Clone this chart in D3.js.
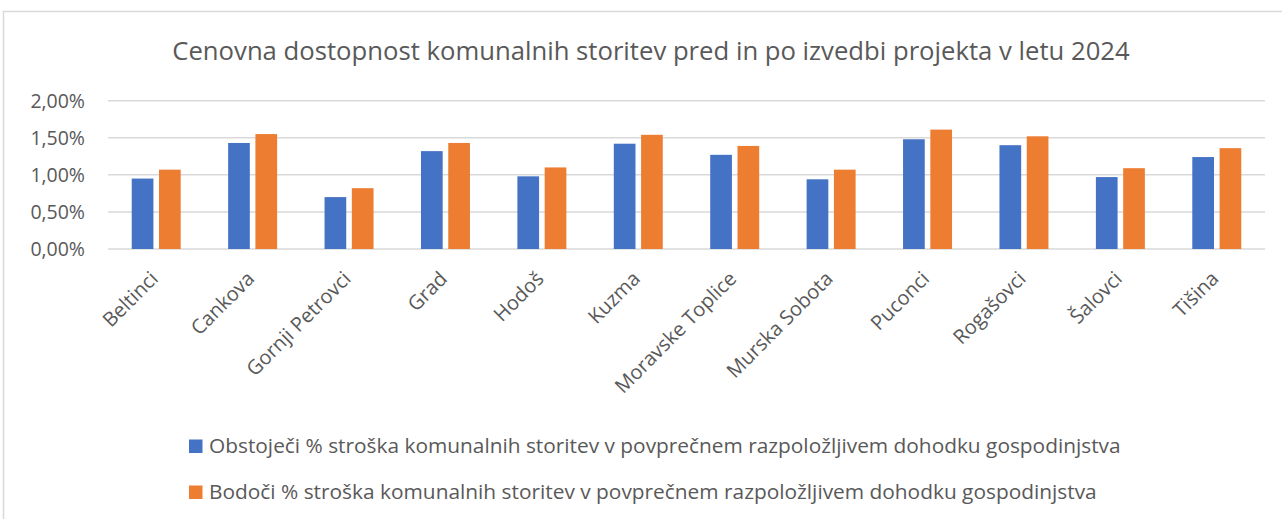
<!DOCTYPE html>
<html>
<head>
<meta charset="utf-8">
<script src="https://cdn.jsdelivr.net/npm/d3@7"></script>
<style>
  body { margin: 0; background: #fff; }
  text { font-family: "Open Sans", "Liberation Sans", sans-serif; fill: #595959; }
</style>
</head>
<body>
<svg id="chart" width="1282" height="519"></svg>
<script>
// občine (categories)
var categories = ["Beltinci", "Cankova", "Gornji Petrovci", "Grad", "Hodoš", "Kuzma",
  "Moravske Toplice", "Murska Sobota", "Puconci", "Rogašovci", "Šalovci", "Tišina"];

// values in %
var obstojeci = [0.95, 1.43, 0.70, 1.32, 0.98, 1.42, 1.27, 0.94, 1.48, 1.40, 0.97, 1.24];
var bodoci    = [1.07, 1.55, 0.82, 1.43, 1.10, 1.54, 1.39, 1.07, 1.61, 1.52, 1.09, 1.36];

var yTicks = [0, 0.5, 1.0, 1.5, 2.0];

var seriesNames = [
  "Obstoječi % stroška komunalnih storitev v povprečnem razpoložljivem dohodku gospodinjstva",
  "Bodoči % stroška komunalnih storitev v povprečnem razpoložljivem dohodku gospodinjstva"
];
var seriesColors = ["#4472C4", "#ED7D31"];

var svg = d3.select("#chart");

// chart area border
svg.append("rect")
  .attr("x", 3.5).attr("y", 11.5)
  .attr("width", 1290).attr("height", 520)
  .attr("fill", "none").attr("stroke", "#D9D9D9").attr("stroke-width", 1.5);

var plot = { left: 108, right: 1265, top: 100.7, bottom: 249 };

var x = d3.scaleBand()
  .domain(categories)
  .range([plot.left, plot.right]);

var y = d3.scaleLinear()
  .domain([0, 2])
  .range([plot.bottom, plot.top]);

// fit text to a target width by scaling font size
function fitWidth(sel, target) {
  var w = sel.node().getComputedTextLength();
  var fs = parseFloat(sel.attr("font-size"));
  sel.attr("font-size", fs * target / w);
}

// gridlines
svg.append("g").selectAll("line")
  .data(yTicks)
  .enter().append("line")
  .attr("x1", plot.left).attr("x2", plot.right)
  .attr("y1", function (d) { return y(d); })
  .attr("y2", function (d) { return y(d); })
  .attr("stroke", "#D9D9D9").attr("stroke-width", 1.5);

// y labels
svg.append("g").selectAll("text")
  .data(yTicks)
  .enter().append("text")
  .attr("x", 85)
  .attr("y", function (d) { return y(d) + 7; })
  .attr("text-anchor", "end")
  .attr("font-size", 19.5)
  .text(function (d) { return d.toFixed(2).replace(".", ",") + "%"; });

// bars
var bw = x.bandwidth();
var barW = bw * 0.225, innerGap = bw * 0.058;
var groupOff = (bw - 2 * barW - innerGap) / 2;

[obstojeci, bodoci].forEach(function (vals, s) {
  svg.append("g").selectAll("rect")
    .data(vals)
    .enter().append("rect")
    .attr("x", function (d, i) { return x(categories[i]) + groupOff + s * (barW + innerGap); })
    .attr("y", function (d) { return y(d); })
    .attr("width", barW)
    .attr("height", function (d) { return y(0) - y(d); })
    .attr("fill", seriesColors[s]);
});

// category labels, rotated
svg.append("g").selectAll("text")
  .data(categories)
  .enter().append("text")
  .attr("transform", function (d) {
    return "translate(" + (x(d) + bw / 2 + 3) + ",280) rotate(-45)";
  })
  .attr("text-anchor", "end")
  .attr("font-size", 20)
  .text(function (d) { return d; });

// title
var title = svg.append("text")
  .attr("x", 651).attr("y", 60)
  .attr("text-anchor", "middle")
  .attr("font-size", 24)
  .text("Cenovna dostopnost komunalnih storitev pred in po izvedbi projekta v letu 2024");
fitWidth(title, 958);

// legend
seriesNames.forEach(function (name, s) {
  var ly = 453 + s * 46;
  svg.append("rect")
    .attr("x", 189).attr("y", ly - 13.5)
    .attr("width", 13.5).attr("height", 13.5)
    .attr("fill", seriesColors[s]);
  var t = svg.append("text")
    .attr("x", 209).attr("y", ly)
    .attr("font-size", 19)
    .text(name);
  fitWidth(t, s === 0 ? 912 : 888);
});
</script>
</body>
</html>
